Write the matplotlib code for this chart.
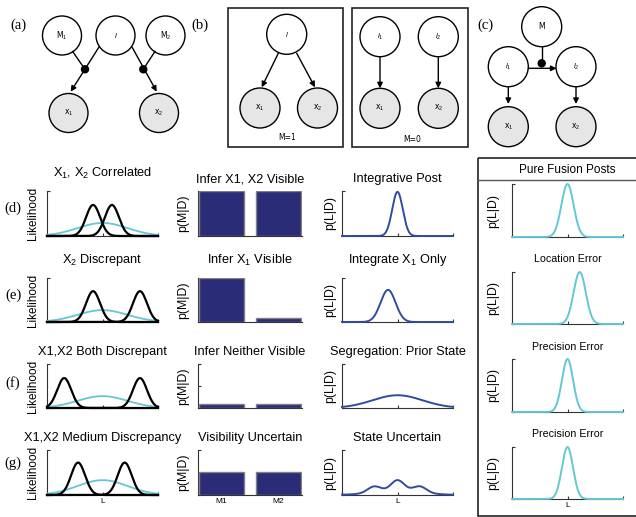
import numpy as np
import matplotlib
matplotlib.use('Agg')
import matplotlib.pyplot as plt
from matplotlib.patches import Circle, Rectangle

plt.rcParams['font.family'] = ['Liberation Sans', 'DejaVu Sans']
plt.rcParams['mathtext.fontset'] = 'custom'
plt.rcParams['mathtext.rm'] = 'Liberation Sans'
plt.rcParams['mathtext.it'] = 'Liberation Sans:italic'

# ---- data ----
row_labels = ['(d)', '(e)', '(f)', '(g)']
lik_titles = ['X$_1$, X$_2$ Correlated', 'X$_2$ Discrepant',
              'X1,X2 Both Discrepant', 'X1,X2 Medium Discrepancy']
vis_titles = ['Infer X1, X2 Visible', 'Infer X$_1$ Visible',
              'Infer Neither Visible', 'Visibility Uncertain']
post_titles = ['Integrative Post', 'Integrate X$_1$ Only',
               'Segregation: Prior State', 'State Uncertain']
fusion_titles = ['Pure Fusion Posts', 'Location Error', 'Precision Error', 'Precision Error']
bar_labels = ['M1', 'M2']

# cue likelihoods (peak location, width, height)
x1_peak = [-1.7, -1.7, -6.9, -4.4]
x2_peak = [1.7, 6.75, 6.75, 4.0]
cue_width = 1.26
cue_height = [0.69, 0.70, 0.68, 0.72]
prior_width = 4.5
prior_height = [0.29, 0.27, 0.27, 0.33]

# p(M|D)
vis_m1 = [1.0, 1.0, 0.085, 0.51]
vis_m2 = [1.0, 0.09, 0.085, 0.51]

# posterior bumps per row: (location, width, height)
post_bumps = [
    [(0.0, 0.95, 0.98)],
    [(-1.7, 1.35, 0.73)],
    [(0.0, 4.5, 0.29)],
    [(-4.2, 1.2, 0.14), (0.0, 1.2, 0.25), (4.0, 1.2, 0.14), (0.0, 4.5, 0.08)],
]

# pure fusion posteriors
fusion_peak = [0.0, 2.2, 0.0, 0.0]
fusion_width = [1.1, 1.1, 1.0, 1.0]
fusion_height = [1.0, 1.0, 1.0, 1.0]

# ---- colours ----
NAVY = '#2b2c78'
BLUE = '#2f4c9f'
CYAN = '#63c7d4'
NODE_GRAY = '#e6e6e6'
SPINE = '#333333'

W, H = 636, 517
fig = plt.figure(figsize=(W / 100, H / 100), dpi=100)

# overlay in pixel coordinates for diagrams and loose text
ov = fig.add_axes([0, 0, 1, 1])
ov.set_xlim(0, W)
ov.set_ylim(H, 0)
ov.axis('off')


def bump(x, loc, width, height):
    return height * np.exp(-0.5 * ((x - loc) / width) ** 2)


def px_axes(l, r, t, b):
    ax = fig.add_axes([l / W, 1 - b / H, (r - l) / W, (b - t) / H])
    for s in ['top', 'right']:
        ax.spines[s].set_visible(False)
    for s in ['left', 'bottom']:
        ax.spines[s].set_color(SPINE)
        ax.spines[s].set_linewidth(0.8)
    ax.tick_params(direction='in', length=2.5, width=0.8, color=SPINE,
                   labelsize=6, pad=2.5)
    ax.set_facecolor('none')
    return ax


def line_axes(l, r, t, b, show_l):
    ax = px_axes(l, r, t, b)
    ax.set_xlim(-10, 10)
    ax.set_ylim(0, 1)
    ax.set_xticks([-10, 0, 10])
    ax.set_xticklabels(['', 'L', ''] if show_l else ['', '', ''])
    ax.set_yticks([0, 1])
    ax.set_yticklabels([])
    return ax


# ---- graphical models ----
def node(x, y, label, shaded=False, r=19.5, fs=5.5):
    ov.add_patch(Circle((x, y), r, facecolor=NODE_GRAY if shaded else 'white',
                        edgecolor='black', lw=1.0))
    ov.text(x, y, label, ha='center', va='center', fontsize=fs,
            family='DejaVu Sans')


def arrow(x0, y0, x1, y1):
    ov.annotate('', xy=(x1, y1), xytext=(x0, y0),
                arrowprops=dict(arrowstyle='-|>', color='black', lw=1.0,
                                mutation_scale=8, shrinkA=0, shrinkB=0))


def seg(x0, y0, x1, y1):
    ov.plot([x0, x1], [y0, y1], color='black', lw=1.0)


def dot(x, y):
    ov.add_patch(Circle((x, y), 3.5, facecolor='black', edgecolor='black', zorder=5))


ell = r'$\mathit{l}$'
serif = dict(family='Liberation Serif', fontsize=10.5, ha='center', va='center')

# (a)
ov.text(18, 25, '(a)', **serif)
node(62, 35.5, 'M$_1$')
node(115.5, 35.5, ell)
node(165.5, 35.5, 'M$_2$')
node(68.5, 113, 'x$_1$', shaded=True)
node(159, 113, 'x$_2$', shaded=True)
arrow(99, 47, 70.7, 91.7)
arrow(132, 47, 156.7, 91.7)
seg(72.7, 51.6, 85, 69.3)
seg(155, 51.4, 143.3, 69.3)
dot(85, 69.3)
dot(143.3, 69.3)

# (b)
ov.text(200, 25, '(b)', **serif)
ov.add_patch(Rectangle((227.5, 7.5), 115.8, 139, fill=False, lw=1.2, edgecolor='#222222'))
ov.add_patch(Rectangle((351.7, 7.5), 116.3, 139.5, fill=False, lw=1.2, edgecolor='#222222'))
node(286.7, 34.3, ell, r=20)
node(260, 108, 'x$_1$', shaded=True, r=20)
node(317.5, 108, 'x$_2$', shaded=True, r=20)
arrow(278.3, 53.3, 261.7, 87.3)
arrow(296.7, 53.3, 315, 87.3)
ov.text(286.7, 137.7, 'M=1', ha='center', va='center', fontsize=5.5, family='DejaVu Sans')
node(380, 36.7, ell + '$_1$', r=20)
node(438.3, 36.7, ell + '$_2$', r=20)
node(380, 108.3, 'x$_1$', shaded=True, r=20)
node(438.3, 108.3, 'x$_2$', shaded=True, r=20)
arrow(380, 56.7, 380, 88.3)
arrow(438.3, 56.7, 438.3, 88.3)
ov.text(411.7, 139, 'M=0', ha='center', va='center', fontsize=5.5, family='DejaVu Sans')

# (c)
ov.text(485, 25, '(c)', **serif)
node(541.7, 26.7, 'M', r=20)
node(508.3, 66.7, ell + '$_1$', r=20)
node(576, 66.7, ell + '$_2$', r=20)
node(508.3, 126.7, 'x$_1$', shaded=True, r=20)
node(576, 126.7, 'x$_2$', shaded=True, r=20)
arrow(528.3, 68.3, 556.5, 68.3)
seg(541.7, 46.7, 541.7, 63.3)
dot(541.7, 63.3)
arrow(508.3, 86.7, 508.3, 104)
arrow(576, 86.7, 576, 104)

# ---- plots ----
x = np.linspace(-10, 10, 401)
row_box = [(191, 236), (278, 322), (364, 408), (450, 495)]
fusion_box = [(184, 237), (272, 324), (359, 412), (447, 499)]
title_y = [(173, 179, 179), (260, 260, 260), (352, 352, 352), (438, 438, 438)]
fusion_title_y = [170, 259, 347, 434]
row_label_y = [208, 295, 383, 463]

for i in range(4):
    t, b = row_box[i]
    last = i == 3
    ov.text(13, row_label_y[i], row_labels[i], **serif)

    # likelihoods
    ax = line_axes(47, 158, t, b, last)
    ax.plot(x, bump(x, 0.0, prior_width, prior_height[i]), color=CYAN, lw=1.3,
            zorder=3, clip_on=False)
    ax.plot(x, bump(x, x1_peak[i], cue_width, cue_height[i]), color='black',
            lw=1.6, zorder=4, clip_on=False)
    ax.plot(x, bump(x, x2_peak[i], cue_width, cue_height[i]), color='black',
            lw=1.6, zorder=4, clip_on=False)
    ov.text(102.5, title_y[i][0], lik_titles[i], ha='center', va='center', fontsize=9.2)
    ov.text(33, (t + b) / 2, 'Likelihood', rotation=90, ha='center', va='center',
            fontsize=8.5)

    # p(M|D)
    ax = px_axes(198, 302, t, b)
    ax.bar([1, 2], [vis_m1[i], vis_m2[i]], width=0.8, color=NAVY,
           edgecolor='#808080', linewidth=1.0, zorder=3)
    ax.set_xlim(0.58, 2.42)
    ax.set_ylim(0, 1)
    ax.set_yticks([0, 0.5, 1])
    ax.set_yticklabels([])
    ax.set_xticks([1, 2])
    ax.set_xticklabels(bar_labels if last else ['', ''])
    ax.tick_params(axis='x', length=0)
    ov.text(250, title_y[i][1], vis_titles[i], ha='center', va='center', fontsize=9.2)
    ov.text(183, (t + b) / 2, 'p(M|D)', rotation=90, ha='center', va='center',
            fontsize=8.8)

    # posterior
    ax = line_axes(342, 453, t, b, last)
    post = sum(bump(x, *p) for p in post_bumps[i])
    ax.plot(x, post, color=BLUE, lw=1.4, zorder=3, clip_on=False)
    ov.text(397.5, title_y[i][2], post_titles[i], ha='center', va='center', fontsize=9.2)
    ov.text(330, (t + b) / 2, 'p(L|D)', rotation=90, ha='center', va='center',
            fontsize=8.8)

    # pure fusion
    ft, fb = fusion_box[i]
    ax = line_axes(512, 623, ft, fb, last)
    ax.plot(x, bump(x, fusion_peak[i], fusion_width[i], fusion_height[i]),
            color=CYAN, lw=1.4, zorder=3, clip_on=False)
    ov.text(567.5, fusion_title_y[i], fusion_titles[i], ha='center', va='center',
            fontsize=8.5 if i == 0 else 7.7)
    ov.text(493, (ft + fb) / 2, 'p(L|D)', rotation=90, ha='center', va='center',
            fontsize=8.8)

# box around pure fusion column
ov.add_patch(Rectangle((477.5, 157.5), 170, 358, fill=False, lw=1.2,
                       edgecolor='#222222', clip_on=False))
ov.plot([477.5, 640], [180, 180], color='#555555', lw=1.0)

fig.savefig('out.png', dpi=100)
